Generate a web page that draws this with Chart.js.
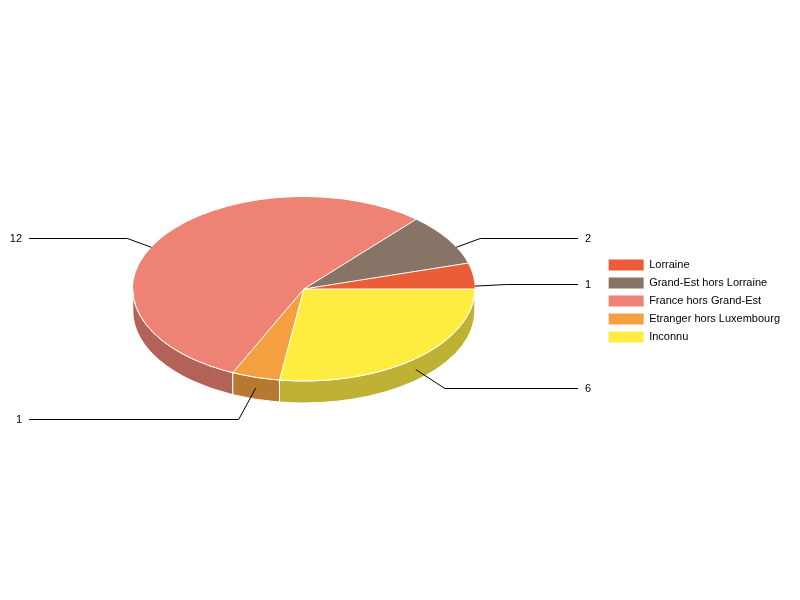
<!DOCTYPE html>
<html>
<head>
<meta charset="utf-8">
<title>Pie</title>
<script src="https://cdn.jsdelivr.net/npm/chart.js@4"></script>
<style>
  html, body { margin: 0; padding: 0; background: #fff; }
  canvas { display: block; }
</style>
</head>
<body>
<canvas id="pie" width="800" height="600"></canvas>
<script>
const categories = ['Lorraine', 'Grand-Est hors Lorraine', 'France hors Grand-Est', 'Etranger hors Luxembourg', 'Inconnu'];
const values = [1, 2, 12, 1, 6];
const topColors = ['#EB5D37', '#887466', '#EE8275', '#F4A040', '#FFEC40'];
const sideColors = ['#B1472A', '#68584D', '#B36258', '#B7782F', '#BFB134'];

// look of the tilted pie and of its leader lines
const tilt = 92 / 171;
const depth = 22;
const shiftY = -12;
const elbowGap = [32, 24, 24, 17, 29];
const labelY = [284, 238, 238, 419, 388];

function ellipseOf(arc) {
	return { x: arc.x, y: arc.y + shiftY, rx: arc.outerRadius, ry: arc.outerRadius * tilt };
}

const tiltedPie = {
	id: 'tiltedPie',
	beforeDatasetDraw(chart, args) {
		const ctx = chart.ctx;
		const arcs = args.meta.data;
		const e = ellipseOf(arcs[0]);
		// side wall, only the front half shows
		ctx.save();
		ctx.strokeStyle = '#fff';
		ctx.lineWidth = 1;
		arcs.forEach(function(arc, i) {
			const from = Math.max(arc.startAngle, Math.PI);
			const to = Math.min(arc.endAngle, 2 * Math.PI);
			if (to <= from) return;
			ctx.beginPath();
			ctx.ellipse(e.x, e.y, e.rx, e.ry, 0, -from, -to, true);
			ctx.ellipse(e.x, e.y + depth, e.rx, e.ry, 0, -to, -from, false);
			ctx.closePath();
			ctx.fillStyle = sideColors[i];
			ctx.fill();
			ctx.stroke();
		});
		ctx.restore();
		// the arcs themselves are drawn by chart.js, squashed and flipped
		ctx.save();
		ctx.translate(e.x, e.y);
		ctx.scale(1, -tilt);
		ctx.translate(-arcs[0].x, -arcs[0].y);
	},
	afterDatasetDraw(chart, args) {
		const ctx = chart.ctx;
		ctx.restore();
		const arcs = args.meta.data;
		const e = ellipseOf(arcs[0]);
		ctx.save();
		ctx.strokeStyle = '#fff';
		ctx.lineWidth = 1;
		// white spokes, and the rim only where it meets the wall
		arcs.forEach(function(arc) {
			ctx.beginPath();
			ctx.moveTo(e.x, e.y);
			ctx.lineTo(e.x + e.rx * Math.cos(arc.startAngle), e.y - e.ry * Math.sin(arc.startAngle));
			ctx.stroke();
		});
		ctx.beginPath();
		ctx.ellipse(e.x, e.y, e.rx, e.ry, 0, 0, Math.PI, false);
		ctx.stroke();
		// leader lines and value labels
		ctx.strokeStyle = '#000';
		ctx.fillStyle = '#000';
		ctx.font = '11px "Liberation Sans", Arial, sans-serif';
		ctx.textBaseline = 'middle';
		arcs.forEach(function(arc, i) {
			const mid = (arc.startAngle + arc.endAngle) / 2;
			const sin = Math.sin(mid);
			let ax = e.x + e.rx * Math.cos(mid);
			const ay = e.y - e.ry * sin + (depth / 2) * (sin > 0 ? 1 - sin / 2 : 1);
			const dir = Math.cos(mid) >= 0 && i !== 3 ? 1 : -1;
			// back slices: the anchor slides out to the rim
			if (sin > 0) {
				const s = (ay - e.y) / e.ry;
				ax = e.x + dir * e.rx * Math.sqrt(1 - s * s);
			}
			const elbow = ax + dir * elbowGap[i];
			const end = dir > 0 ? 578 : 29;
			ctx.beginPath();
			ctx.moveTo(ax, ay);
			ctx.lineTo(elbow, labelY[i] + 0.5);
			ctx.lineTo(end, labelY[i] + 0.5);
			ctx.stroke();
			ctx.textAlign = dir > 0 ? 'left' : 'right';
			ctx.fillText(String(values[i]), dir > 0 ? 585 : 22, labelY[i] + 0.5);
		});
		ctx.restore();
	}
};

new Chart(document.getElementById('pie'), {
	type: 'pie',
	data: {
		labels: categories,
		datasets: [{
			data: values,
			backgroundColor: topColors,
			borderWidth: 0
		}]
	},
	options: {
		responsive: false,
		animation: false,
		rotation: 90,
		radius: 171,
		layout: { padding: { left: 6, right: 10, top: 2 } },
		plugins: {
			tooltip: { enabled: false },
			legend: {
				position: 'right',
				labels: {
					boxWidth: 35,
					boxHeight: 11,
					padding: 7,
					color: '#000',
					font: { family: '"Liberation Sans", Arial, sans-serif', size: 11 }
				}
			}
		}
	},
	plugins: [tiltedPie]
});
</script>
</body>
</html>
